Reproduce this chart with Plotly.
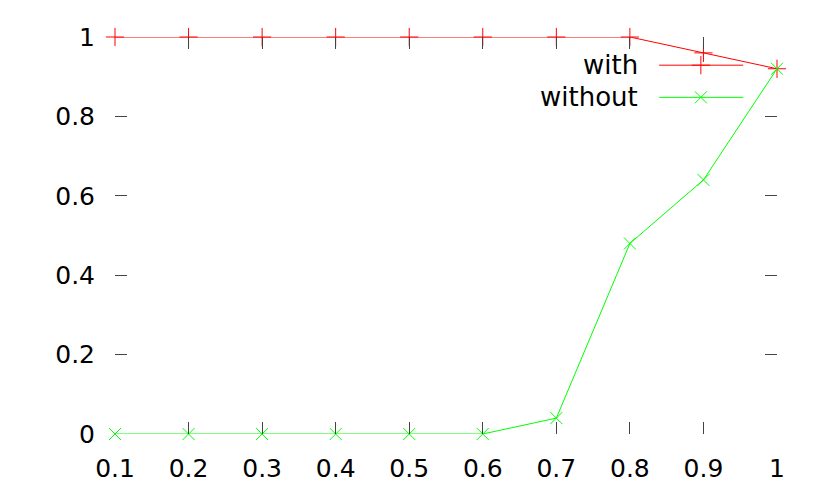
import plotly.graph_objects as go

x_vals = [0.1, 0.2, 0.3, 0.4, 0.5, 0.6, 0.7, 0.8, 0.9, 1.0]
with_vals = [1, 1, 1, 1, 1, 1, 1, 1, 0.96, 0.92]
without_vals = [0, 0, 0, 0, 0, 0, 0.04, 0.48, 0.64, 0.92]
series_names = ["with", "without"]
x_ticks = [0.1, 0.2, 0.3, 0.4, 0.5, 0.6, 0.7, 0.8, 0.9, 1]
y_ticks = [0, 0.2, 0.4, 0.6, 0.8, 1]

RED = "#ff0000"
GREEN = "#00ff00"
FONT = "DejaVu Sans, Verdana, sans-serif"
FSIZE = 25

fig = go.Figure()
fig.add_trace(go.Scatter(
    x=x_vals, y=with_vals, mode="lines+markers", name=series_names[0],
    line=dict(color=RED, width=1), cliponaxis=False,
    marker=dict(symbol="cross-thin", size=13, line=dict(color=RED, width=1)),
))
fig.add_trace(go.Scatter(
    x=x_vals, y=without_vals, mode="lines+markers", name=series_names[1],
    line=dict(color=GREEN, width=1), cliponaxis=False,
    marker=dict(symbol="x-thin", size=12, line=dict(color=GREEN, width=1)),
))

# gnuplot-style legend: right-aligned text, sample line + marker to the right
leg_rows = [(0.929, RED, "cross-thin", 13), (0.848, GREEN, "x-thin", 12)]
for (yy, col, sym, sz), name in zip(leg_rows, series_names):
    fig.add_shape(type="line", xref="paper", yref="paper",
                  x0=0.822, x1=0.949, y0=yy, y1=yy, line=dict(color=col, width=1))
    fig.add_annotation(text=name, xref="paper", yref="paper", x=0.793, y=yy,
                       xanchor="right", yanchor="middle", showarrow=False,
                       font=dict(family=FONT, size=26, color="black"))
    # marker sample sits on the label axes (x2/y2 share the data ranges)
    fig.add_trace(go.Scatter(
        x=[0.1 + 0.885 * 0.9], y=[yy], xaxis="x2", yaxis="y2", mode="markers",
        showlegend=False, marker=dict(symbol=sym, size=sz, line=dict(color=col, width=1)),
        hoverinfo="skip", cliponaxis=False,
    ))

# inside tick marks on all four sides, no labels
tick_axis = dict(showgrid=False, zeroline=False, showline=False, ticks="inside",
                 ticklen=12, tickwidth=1, tickcolor="#444", mirror="ticks",
                 showticklabels=False)
# label-only axes: invisible outside ticks push the labels away from the frame
label_axis = dict(showgrid=False, zeroline=False, showline=False, ticks="outside",
                  tickwidth=1, tickcolor="rgba(0,0,0,0)",
                  tickfont=dict(family=FONT, size=FSIZE, color="black"))

fig.update_layout(
    width=830, height=498, plot_bgcolor="white", paper_bgcolor="white",
    margin=dict(l=107, r=61, t=29, b=72), showlegend=False,
    xaxis=dict(range=[0.1, 1], tickvals=x_ticks, **tick_axis),
    yaxis=dict(range=[0, 1], tickvals=y_ticks, **tick_axis),
    xaxis2=dict(range=[0.1, 1], overlaying="x", anchor="y2", side="bottom",
                tickvals=x_ticks, ticktext=[str(v) for v in x_ticks], ticklen=12,
                **label_axis),
    yaxis2=dict(range=[0, 1], overlaying="y", anchor="x2", side="left",
                tickvals=y_ticks, ticktext=[str(v) for v in y_ticks], ticklen=14,
                **label_axis),
)

fig.write_html("out.html")
